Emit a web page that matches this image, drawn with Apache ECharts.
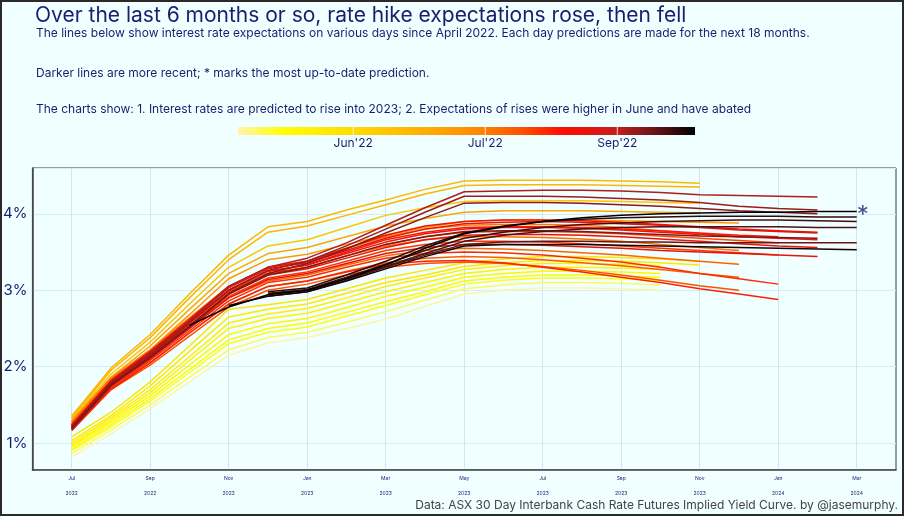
<!DOCTYPE html>
<html><head><meta charset="utf-8">
<script src="https://cdn.jsdelivr.net/npm/echarts@6/dist/echarts.min.js"></script>
<style>html,body{margin:0;padding:0;background:#f0ffff;}#c{width:904px;height:516px;}</style>
</head><body><div id="c"></div>
<script>
// ---------------- data ----------------
const monthCats = ['2022-06','2022-07','2022-08','2022-09','2022-10','2022-11','2022-12',
  '2023-01','2023-02','2023-03','2023-04','2023-05','2023-06','2023-07','2023-08','2023-09',
  '2023-10','2023-11','2023-12','2024-01','2024-02','2024-03','2024-04'];
const monthNames = ['Jan','Feb','Mar','Apr','May','Jun','Jul','Aug','Sep','Oct','Nov','Dec'];
const yTickValues = [1, 2, 3, 4];

// date on which each expectation curve was observed
const lineDates = [
  '2022-04-21','2022-04-28','2022-05-05',
  '2022-05-09','2022-05-12','2022-05-16','2022-05-19','2022-05-23','2022-05-26',
  '2022-06-14','2022-06-15','2022-06-09','2022-06-20','2022-06-24',
  '2022-07-04','2022-07-07','2022-07-11','2022-07-14','2022-07-18',
  '2022-07-22','2022-07-26','2022-07-29','2022-08-01','2022-08-04',
  '2022-08-09','2022-08-12','2022-08-16','2022-08-19','2022-08-23',
  '2022-09-05','2022-09-09','2022-09-13','2022-09-16',
  '2022-10-14','2022-10-10','2022-09-30','2022-09-27','2022-10-04','2022-09-22'
];
// first contract month shown for each curve
const lineStarts = [
  '2022-07','2022-07','2022-07',
  '2022-07','2022-07','2022-07','2022-07','2022-07','2022-07',
  '2022-07','2022-07','2022-07','2022-07','2022-07',
  '2022-07','2022-07','2022-07','2022-07','2022-07',
  '2022-07','2022-07','2022-07','2022-07','2022-07',
  '2022-07','2022-07','2022-07','2022-07','2022-07',
  '2022-07','2022-07','2022-07','2022-07',
  '2022-10','2022-11','2022-12','2022-12','2022-12','2022-12'
];
// implied cash rate (%) for consecutive months from the start month
const lineValues = [
  [0.82,1.12,1.45,1.8,2.15,2.31,2.38,2.5,2.62,2.79,2.95,3.0,3.03,3.03,3.02,3.0],
  [0.86,1.17,1.5,1.86,2.22,2.38,2.45,2.58,2.72,2.87,3.02,3.07,3.1,3.1,3.09,3.07],
  [0.9,1.21,1.55,1.92,2.3,2.45,2.52,2.66,2.8,2.94,3.08,3.13,3.16,3.16,3.15,3.13],
  [0.92,1.24,1.58,1.96,2.35,2.5,2.57,2.71,2.85,2.98,3.12,3.17,3.2,3.2,3.19,3.17],
  [0.95,1.27,1.62,2.02,2.42,2.56,2.63,2.77,2.92,3.04,3.17,3.22,3.25,3.25,3.24,3.22],
  [0.97,1.3,1.66,2.08,2.5,2.63,2.7,2.84,2.98,3.1,3.22,3.27,3.3,3.3,3.29,3.27],
  [1.0,1.33,1.7,2.13,2.57,2.69,2.76,2.9,3.05,3.16,3.27,3.32,3.35,3.35,3.34,3.32],
  [1.03,1.36,1.75,2.2,2.65,2.75,2.82,2.96,3.1,3.2,3.31,3.36,3.39,3.39,3.38,3.36,3.33],
  [1.08,1.4,1.8,2.27,2.75,2.81,2.88,3.02,3.16,3.26,3.36,3.41,3.44,3.44,3.43,3.41,3.38],
  [1.35,1.98,2.42,2.95,3.46,3.83,3.9,4.05,4.18,4.32,4.43,4.44,4.44,4.44,4.43,4.42,4.4],
  [1.33,1.95,2.38,2.9,3.4,3.76,3.84,3.98,4.12,4.26,4.37,4.38,4.38,4.38,4.37,4.36,4.35],
  [1.31,1.9,2.32,2.82,3.3,3.58,3.66,3.82,3.98,4.08,4.16,4.17,4.17,4.17,4.16,4.15,4.14],
  [1.29,1.86,2.27,2.75,3.22,3.48,3.56,3.7,3.84,3.94,4.02,4.04,4.04,4.04,4.03,4.02,4.01],
  [1.27,1.83,2.22,2.68,3.15,3.4,3.47,3.6,3.72,3.82,3.9,3.92,3.92,3.92,3.91,3.9,3.89,3.88],
  [1.28,1.85,2.22,2.64,3.05,3.3,3.38,3.55,3.7,3.8,3.85,3.86,3.86,3.85,3.82,3.78,3.74,3.7],
  [1.25,1.8,2.15,2.57,2.98,3.22,3.3,3.45,3.58,3.66,3.7,3.7,3.69,3.67,3.64,3.6,3.56,3.52],
  [1.22,1.75,2.1,2.5,2.9,3.12,3.2,3.33,3.45,3.52,3.55,3.54,3.52,3.49,3.46,3.42,3.38,3.34],
  [1.2,1.72,2.05,2.44,2.82,3.05,3.12,3.25,3.36,3.42,3.44,3.43,3.4,3.36,3.32,3.27,3.22,3.17],
  [1.18,1.7,2.02,2.4,2.78,3.0,3.08,3.2,3.3,3.35,3.37,3.35,3.31,3.26,3.2,3.13,3.06,3.0],
  [1.22,1.78,2.15,2.57,2.98,3.22,3.3,3.45,3.6,3.7,3.76,3.77,3.77,3.76,3.74,3.71,3.68,3.65,3.62],
  [1.2,1.75,2.12,2.52,2.92,3.16,3.24,3.38,3.52,3.6,3.64,3.64,3.63,3.61,3.58,3.55,3.52,3.49,3.46],
  [1.18,1.72,2.08,2.47,2.86,3.1,3.17,3.3,3.42,3.48,3.5,3.49,3.46,3.42,3.37,3.3,3.22,3.15,3.08],
  [1.16,1.7,2.05,2.44,2.82,3.05,3.12,3.24,3.34,3.38,3.39,3.36,3.3,3.24,3.17,3.1,3.02,2.95,2.88],
  [1.24,1.8,2.18,2.59,3.0,3.25,3.33,3.5,3.66,3.76,3.82,3.83,3.83,3.82,3.8,3.78,3.75,3.72,3.7],
  [1.24,1.82,2.2,2.62,3.05,3.3,3.38,3.55,3.72,3.84,3.9,3.92,3.92,3.91,3.89,3.86,3.83,3.8,3.78,3.76],
  [1.22,1.8,2.17,2.58,3.0,3.25,3.33,3.48,3.63,3.74,3.8,3.82,3.82,3.81,3.79,3.76,3.73,3.7,3.68,3.66],
  [1.2,1.77,2.14,2.54,2.95,3.2,3.28,3.42,3.56,3.66,3.72,3.73,3.73,3.72,3.7,3.67,3.64,3.61,3.58,3.56],
  [1.18,1.74,2.1,2.5,2.9,3.14,3.22,3.35,3.48,3.56,3.6,3.6,3.59,3.57,3.55,3.52,3.5,3.48,3.46,3.44],
  [1.23,1.81,2.19,2.6,3.03,3.28,3.36,3.52,3.68,3.8,3.87,3.89,3.9,3.89,3.87,3.85,3.82,3.79,3.77,3.75],
  [1.22,1.8,2.18,2.6,3.05,3.3,3.42,3.62,3.85,4.08,4.29,4.3,4.31,4.31,4.3,4.28,4.25,4.24,4.23,4.22],
  [1.2,1.78,2.15,2.57,3.0,3.26,3.38,3.58,3.8,4.02,4.23,4.23,4.23,4.22,4.2,4.18,4.15,4.1,4.07,4.05],
  [1.18,1.75,2.12,2.53,2.96,3.22,3.35,3.54,3.75,3.95,4.14,4.15,4.15,4.14,4.12,4.1,4.07,4.04,4.02,4.0],
  [1.2,1.76,2.12,2.52,2.95,3.2,3.3,3.45,3.6,3.7,3.77,3.78,3.78,3.77,3.75,3.73,3.71,3.7,3.69,3.68],
  [2.54,2.78,2.94,3.0,3.15,3.33,3.55,3.74,3.83,3.9,3.95,3.98,4.0,4.01,4.02,4.02,4.03,4.03],
  [2.8,2.92,2.98,3.12,3.28,3.44,3.58,3.6,3.6,3.6,3.59,3.58,3.57,3.56,3.55,3.54,3.53],
  [2.96,3.01,3.17,3.34,3.52,3.68,3.76,3.82,3.86,3.88,3.9,3.91,3.92,3.92,3.91,3.9],
  [2.95,3.0,3.15,3.31,3.48,3.64,3.72,3.77,3.8,3.82,3.83,3.83,3.83,3.83,3.82,3.82],
  [2.98,3.03,3.2,3.38,3.58,3.75,3.84,3.9,3.93,3.95,3.96,3.97,3.97,3.97,3.96,3.96],
  [2.92,2.98,3.13,3.3,3.46,3.6,3.63,3.64,3.64,3.63,3.63,3.62,3.62,3.62,3.62,3.62]
];
// colour legend
const legendLabels = ["Jun'22", "Jul'22", "Sep'22"];
const legendLabelDates = ['2022-06-01', '2022-07-01', '2022-09-01'];
const colourAnchorDates = ['2022-04-20', '2022-06-01', '2022-07-01', '2022-09-01', '2022-10-14'];
const colourAnchorPos = [0, 0.252, 0.541, 0.83, 1];

// ---------------- styling helpers ----------------
const NAVY = '#1c1c6e';
const FONT = 'Inter, "Open Sans", sans-serif';
const colourStops = [
  [0, '#fff4b0'], [0.1, '#ffff00'], [0.25, '#ffdc00'], [0.4, '#ffb000'],
  [0.52, '#ff8a00'], [0.62, '#ff5200'], [0.71, '#ff0d00'], [0.83, '#c41e1e'],
  [0.92, '#5e1414'], [1, '#000000']
];
function hex2rgb(h){return [1,3,5].map(i=>parseInt(h.substr(i,2),16));}
function colourAt(t){
  t = Math.max(0, Math.min(1, t));
  for (let i = 1; i < colourStops.length; i++) {
    if (t <= colourStops[i][0]) {
      const [t0,c0] = colourStops[i-1], [t1,c1] = colourStops[i];
      const f = (t - t0) / (t1 - t0);
      const a = hex2rgb(c0), b = hex2rgb(c1);
      return 'rgb(' + a.map((v,k)=>Math.round(v + (b[k]-v)*f)).join(',') + ')';
    }
  }
  return colourStops[colourStops.length-1][1];
}
function dayNum(d){return Date.parse(d + 'T00:00:00Z')/86400000;}
function dateToPos(d){
  const x = dayNum(d);
  const xs = colourAnchorDates.map(dayNum);
  for (let i = 1; i < xs.length; i++) {
    if (x <= xs[i]) return colourAnchorPos[i-1] + (x - xs[i-1])/(xs[i]-xs[i-1])*(colourAnchorPos[i]-colourAnchorPos[i-1]);
  }
  return 1;
}

// ---------------- build series ----------------
const order = lineDates.map((d,i)=>i).sort((a,b)=>dayNum(lineDates[a]) - dayNum(lineDates[b]));
const series = order.map(i => {
  const s0 = monthCats.indexOf(lineStarts[i]);
  return {
    type: 'line', symbol: 'none', silent: true, animation: false,
    data: lineValues[i].map((v,k)=>[s0 + k, v]),
    lineStyle: { width: 1.5, color: colourAt(dateToPos(lineDates[i])) }
  };
});
const latest = order[order.length-1];
const latestEnd = [monthCats.indexOf(lineStarts[latest]) + lineValues[latest].length - 1,
                   lineValues[latest][lineValues[latest].length-1]];
series.push({
  type: 'scatter', symbolSize: 1, silent: true, animation: false,
  itemStyle: { color: 'rgba(0,0,0,0)' },
  data: [latestEnd],
  label: { show: true, formatter: '*', position: 'inside', offset: [6, 4],
           fontSize: 24, color: NAVY, fontFamily: FONT }
});

// ---------------- legend (colour bar) ----------------
const barX = 238, barW = 457, barY = 127, barH = 8;
const legendEls = [{
  type: 'rect', shape: { x: barX, y: barY, width: barW, height: barH },
  style: { fill: new echarts.graphic.LinearGradient(0,0,1,0,
    colourStops.map(s=>({offset: s[0], color: s[1]}))) }
}];
legendLabelDates.forEach((d,i) => {
  const x = barX + dateToPos(d) * barW;
  legendEls.push({ type: 'line', shape: { x1: x, y1: barY, x2: x, y2: barY + barH },
    style: { stroke: 'rgba(255,255,255,0.8)', lineWidth: 1 } });
  legendEls.push({ type: 'text', x: x, y: barY + 16,
    style: { text: legendLabels[i], fill: NAVY, font: '12px ' + FONT, align: 'center', verticalAlign: 'middle' } });
});
legendEls.push({ type: 'rect', shape: { x: 1, y: 1, width: 902, height: 514 },
  style: { fill: 'none', stroke: '#2a2a2a', lineWidth: 2 } });

const tickShown = (idx) => idx % 2 === 1;

const option = {
  backgroundColor: '#f0ffff',
  animation: false,
  title: [
    { text: 'Over the last 6 months or so, rate hike expectations rose, then fell', left: 30, top: 0,
      textStyle: { fontSize: 21, fontWeight: 'normal', color: NAVY, fontFamily: FONT } },
    { text: 'The lines below show interest rate expectations on various days since April 2022. Each day predictions are made for the next 18 months.',
      left: 31, top: 22, textStyle: { fontSize: 12, fontWeight: 'normal', color: NAVY, fontFamily: FONT } },
    { text: 'Darker lines are more recent; * marks the most up-to-date prediction.',
      left: 31, top: 62, textStyle: { fontSize: 12, fontWeight: 'normal', color: NAVY, fontFamily: FONT } },
    { text: 'The charts show: 1. Interest rates are predicted to rise into 2023; 2. Expectations of rises were higher in June and have abated',
      left: 31, top: 98, textStyle: { fontSize: 12, fontWeight: 'normal', color: NAVY, fontFamily: FONT } },
    { text: 'Data: ASX 30 Day Interbank Cash Rate Futures Implied Yield Curve. by @jasemurphy.',
      right: 1, top: 494, textStyle: { fontSize: 12, fontWeight: 'normal', color: '#444', fontFamily: FONT } }
  ],
  grid: { left: 30, right: 8, top: 168, bottom: 46, show: true, borderColor: '#3a3a3a', borderWidth: 1, backgroundColor: 'transparent' },
  xAxis: {
    type: 'category', data: monthCats, boundaryGap: false,
    axisLine: { show: true, lineStyle: { color: '#444', width: 1.5 } },
    axisTick: { show: false },
    axisLabel: { interval: tickShown, margin: 5, fontSize: 5, lineHeight: 7.5, color: NAVY, fontFamily: FONT,
      formatter: (v) => monthNames[parseInt(v.slice(5),10)-1] + '\n\n' + v.slice(0,4) },
    splitLine: { show: true, interval: tickShown, lineStyle: { color: '#cfe6f4', width: 1 } }
  },
  yAxis: {
    type: 'value', min: 0.647, max: 4.6, minInterval: 1, maxInterval: 1,
    axisLine: { show: true, lineStyle: { color: '#444', width: 1.5 } },
    axisTick: { show: false },
    axisLabel: { margin: 5, fontSize: 15, color: NAVY, fontFamily: FONT, showMinLabel: false, showMaxLabel: false,
      formatter: (v) => yTickValues.includes(Math.round(v*1000)/1000) ? v + '%' : '' },
    splitLine: { show: true, lineStyle: { color: '#d6ecf6', width: 1 } }
  },
  series: series,
  graphic: legendEls
};
const chart = echarts.init(document.getElementById('c'));
chart.setOption(option);
</script></body></html>
